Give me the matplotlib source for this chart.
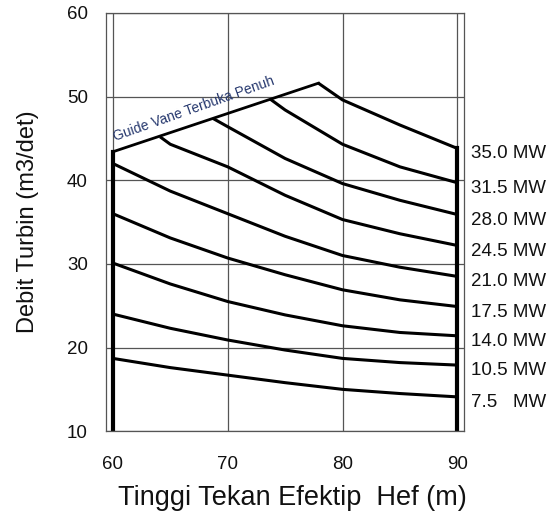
import matplotlib
matplotlib.use("Agg")
import matplotlib.pyplot as plt

plt.rcParams["font.family"] = ["Liberation Sans", "DejaVu Sans"]

# Head (m) and discharge (m3/det) along each constant-output curve
power_labels = ["35.0 MW", "31.5 MW", "28.0 MW", "24.5 MW", "21.0 MW",
                "17.5 MW", "14.0 MW", "10.5 MW", "7.5   MW"]

head_35 = [77.9, 80, 85, 90]
flow_35 = [51.6, 49.6, 46.6, 43.8]

head_315 = [73.7, 75, 80, 85, 90]
flow_315 = [49.7, 48.4, 44.3, 41.6, 39.7]

head_28 = [68.7, 70, 75, 80, 85, 90]
flow_28 = [47.4, 46.4, 42.6, 39.6, 37.6, 35.9]

head_245 = [64.1, 65, 70, 75, 80, 85, 90]
flow_245 = [45.2, 44.3, 41.6, 38.2, 35.3, 33.6, 32.2]

head_full = [60, 65, 70, 75, 80, 85, 90]
flow_21 = [42.0, 38.7, 36.0, 33.3, 31.0, 29.6, 28.5]
flow_175 = [36.0, 33.1, 30.7, 28.7, 26.9, 25.7, 24.9]
flow_14 = [30.1, 27.6, 25.5, 23.9, 22.6, 21.8, 21.4]
flow_105 = [24.0, 22.3, 20.9, 19.7, 18.7, 18.2, 17.9]
flow_75 = [18.7, 17.6, 16.7, 15.8, 15.0, 14.5, 14.1]

# Guide vane fully open limit line
guide_head = [60, 77.9]
guide_flow = [43.4, 51.6]

# Head limits (vertical boundaries)
head_min = 60
head_max = 90
flow_min = 10

curves = [
    (head_35, flow_35),
    (head_315, flow_315),
    (head_28, flow_28),
    (head_245, flow_245),
    (head_full, flow_21),
    (head_full, flow_175),
    (head_full, flow_14),
    (head_full, flow_105),
    (head_full, flow_75),
]

fig = plt.figure(figsize=(5.52, 5.17), dpi=100)
ax = fig.add_axes([0.192, 0.166, 0.649, 0.809])

ax.set_xlim(59.4, 90.6)
ax.set_ylim(10, 60)
ax.set_xticks([60, 70, 80, 90])
ax.set_yticks([10, 20, 30, 40, 50, 60])
ax.grid(True, color="#555555", linewidth=0.9)
ax.set_axisbelow(True)
for side in ax.spines.values():
    side.set_color("#555555")
    side.set_linewidth(0.9)
ax.tick_params(length=0, labelsize=13.5, colors="#111111")
ax.tick_params(axis="x", pad=18)
ax.tick_params(axis="y", pad=13)

# Constant-power curves
for (h, q), lab in zip(curves, power_labels):
    ax.plot(h, q, color="black", linewidth=2.2, solid_capstyle="butt")
    ax.annotate(lab, xy=(head_max, q[-1]), xytext=(10, -4),
                textcoords="offset points", ha="left", va="center",
                fontsize=13.5, color="#111111", annotation_clip=False)

ax.plot(guide_head, guide_flow, color="black", linewidth=2.0)
ax.plot([head_min, head_min], [flow_min, guide_flow[0]], color="black", linewidth=3.0)
ax.plot([head_max, head_max], [flow_min, flow_35[-1]], color="black", linewidth=3.0)

ax.text(60.3, 44.3, "Guide Vane Terbuka Penuh", rotation=19.5,
        rotation_mode="anchor", ha="left", va="bottom",
        fontsize=10, color="#26386e")

ax.set_xlabel("Tinggi Tekan Efektip  Hef (m)", fontsize=19.5, color="#111111")
ax.set_ylabel("Debit Turbin (m3/det)", fontsize=17, color="#111111")
ax.xaxis.set_label_coords(0.52, -0.128)
ax.yaxis.set_label_coords(-0.188, 0.5)

fig.savefig("out.png", dpi=100)
